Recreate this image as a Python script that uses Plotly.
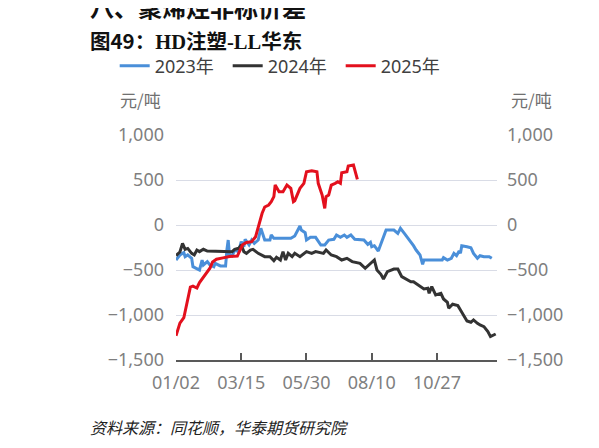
import plotly.graph_objects as go

# 横轴为交易日序号（0 = 01/02），每 50 个交易日一个刻度
tick_pos = [0, 50, 100, 150, 200, 246]
tick_text = ["01/02", "03/15", "05/30", "08/10", "10/27", ""]

# 2023年
x_2023 = [0, 3, 6, 7, 9, 12, 13, 16, 18, 20, 21, 24, 26, 29, 30, 34, 38, 39, 40, 41,
          43, 45, 48, 50, 52, 53, 56, 58, 60, 63, 65, 68, 72, 73, 75, 80, 88, 91, 95, 96,
          99, 100, 103, 107, 111, 114, 117, 121, 123, 126, 129, 131, 134, 137, 141, 144, 147, 149, 150, 152,
          155, 157, 161, 164, 167, 170, 172, 175, 178, 182, 184, 187, 189, 190, 198, 204, 205, 208, 211, 213,
          215, 217, 218, 219, 223, 226, 228, 231, 233, 236, 240, 242]
y_2023 = [-389, -333, -307, -352, -333, -370, -463, -481, -500, -389, -444, -407, -444, -463, -426, -455, -455, -278, -167, -333,
          -344, -278, -296, -185, -241, -159, -222, -167, -204, -167, -37, -167, -167, -111, -148, -148, -148, -122, -11, -56,
          -85, -167, -137, -137, -222, -222, -167, -159, -111, -137, -111, -137, -111, -159, -159, -167, -215, -193, -241, -230,
          -289, -204, -56, -56, -56, -93, -37, -93, -148, -230, -278, -333, -437, -389, -389, -389, -363, -389, -370, -315,
          -341, -289, -315, -230, -241, -252, -315, -370, -341, -352, -352, -370]

# 2024年
x_2024 = [0, 3, 5, 7, 9, 12, 14, 16, 18, 21, 24, 30, 38, 43, 45, 48, 50, 52, 54, 57,
          59, 63, 68, 72, 75, 77, 80, 82, 84, 86, 89, 91, 95, 100, 104, 107, 113, 115, 119, 123,
          127, 131, 135, 141, 145, 148, 152, 154, 157, 159, 162, 167, 170, 173, 177, 180, 182, 185, 187, 190,
          193, 194, 196, 199, 203, 205, 208, 209, 212, 216, 218, 221, 223, 226, 228, 231, 233, 236, 239, 241,
          243, 245]
y_2024 = [-340, -300, -205, -270, -260, -315, -333, -278, -296, -270, -290, -290, -290, -296, -270, -259, -222, -296, -315, -278,
          -270, -315, -352, -352, -396, -359, -389, -296, -389, -315, -352, -315, -352, -296, -315, -296, -315, -278, -333, -352,
          -389, -370, -407, -426, -481, -437, -389, -500, -548, -600, -518, -489, -489, -574, -603, -630, -630, -659, -677, -711,
          -703, -759, -685, -777, -759, -822, -859, -925, -881, -896, -944, -1018, -1066, -1081, -1055, -1092, -1111, -1129, -1185, -1240,
          -1221, -1211]

# 2025年
x_2025 = [0, 3, 6, 8, 11, 13, 16, 18, 21, 24, 26, 28, 31, 36, 41, 47, 49, 51, 54, 58,
          61, 63, 66, 68, 71, 73, 75, 76, 79, 82, 85, 88, 90, 91, 95, 98, 100, 104, 108, 109,
          112, 114, 115, 117, 119, 122, 124, 126, 127, 131, 132, 136, 137, 139]
y_2025 = [-1230, -1090, -1030, -900, -690, -680, -700, -640, -585, -520, -480, -410, -380, -365, -350, -345, -280, -220, -195, -185,
          -130, -20, 130, 200, 222, 259, 315, 444, 370, 370, 444, 407, 259, 270, 407, 463, 592, 603, 592, 463,
          333, 185, 315, 333, 444, 463, 481, 463, 581, 592, 655, 666, 610, 507]

series = [
    ("2023年", x_2023, y_2023, "#4a8fd9"),
    ("2024年", x_2024, y_2024, "#333333"),
    ("2025年", x_2025, y_2025, "#e3101d"),
]

fig = go.Figure()
for name, xs, ys, color in series:
    fig.add_trace(go.Scatter(x=xs, y=ys, name=name, mode="lines",
                             line=dict(color=color, width=3)))

# 右侧坐标轴用一个不可见的系列撑起来
fig.add_trace(go.Scatter(x=[0], y=[0], yaxis="y2", showlegend=False,
                         mode="markers", marker=dict(opacity=0), hoverinfo="skip"))

tick_font = dict(family="Noto Sans, Noto Sans CJK SC", size=18, color="#7f7f7f")
yticks = [-1500, -1000, -500, 0, 500, 1000]

fig.update_layout(
    width=599, height=448,
    margin=dict(l=168, r=110, t=127, b=96),
    paper_bgcolor="white", plot_bgcolor="white",
    showlegend=True,
    legend=dict(orientation="h", x=-0.191, y=1.307, xanchor="left", yanchor="middle",
                font=dict(family="Noto Sans, Noto Sans CJK SC", size=18, color="#404040"),
                itemwidth=30, tracegroupgap=0, bgcolor="rgba(0,0,0,0)",
                entrywidth=68, entrywidthmode="pixels"),
    xaxis=dict(range=[0, 246], tickmode="array", tickvals=tick_pos, ticktext=tick_text,
               showgrid=False, zeroline=False, showline=True, linecolor="#595959", linewidth=1.5,
               ticks="inside", ticklen=7, tickcolor="#595959", tickwidth=1.5,
               tickfont=tick_font, ticklabelstandoff=6),
    yaxis=dict(range=[-1500, 1000], tickmode="array", tickvals=yticks,
               tickformat=",d", showgrid=True, gridcolor="#d9dce6", gridwidth=1.2,
               zeroline=False, showline=False, ticks="", tickfont=tick_font,
               ticklabelstandoff=11),
    yaxis2=dict(range=[-1500, 1000], tickmode="array", tickvals=yticks,
                tickformat=",d", overlaying="y", side="right", showgrid=False,
                zeroline=False, showline=False, ticks="", tickfont=tick_font,
                ticklabelstandoff=9),
)

cjk = "Noto Sans CJK SC"
fig.add_annotation(text="<b>八、聚烯烃非标价差</b>", xref="paper", yref="paper",
                   x=-0.274, y=1.569, xanchor="left", yanchor="middle", showarrow=False,
                   font=dict(family=cjk, size=24, color="#111111"))
fig.add_annotation(
    text=("<b>图49：</b><b><span style='font-family:Liberation Serif'>HD</span>注塑"
          "<span style='font-family:Liberation Serif'>-LL</span>华东</b>"),
    xref="paper", yref="paper", x=-0.274, y=1.422, xanchor="left", yanchor="middle",
    showarrow=False, font=dict(family=cjk, size=20.5, color="#111111"))
fig.add_annotation(text="元/吨", xref="paper", yref="paper", x=-0.181, y=1.156,
                   xanchor="left", yanchor="middle", showarrow=False,
                   font=dict(family=cjk, size=17, color="#707070"))
fig.add_annotation(text="元/吨", xref="paper", yref="paper", x=1.037, y=1.156,
                   xanchor="left", yanchor="middle", showarrow=False,
                   font=dict(family=cjk, size=17, color="#707070"))
fig.add_annotation(text="<i>资料来源：同花顺，华泰期货研究院</i>", xref="paper", yref="paper",
                   x=-0.274, y=-0.298, xanchor="left", yanchor="middle", showarrow=False,
                   font=dict(family=cjk, size=16, color="#222222"))
# 右侧被裁掉的相邻内容留下的竖线
fig.add_shape(type="rect", xref="paper", yref="paper", x0=1.305, x1=1.313, y0=1.378, y1=1.453,
              fillcolor="#111111", line=dict(width=0))

fig.write_html("out.html")
